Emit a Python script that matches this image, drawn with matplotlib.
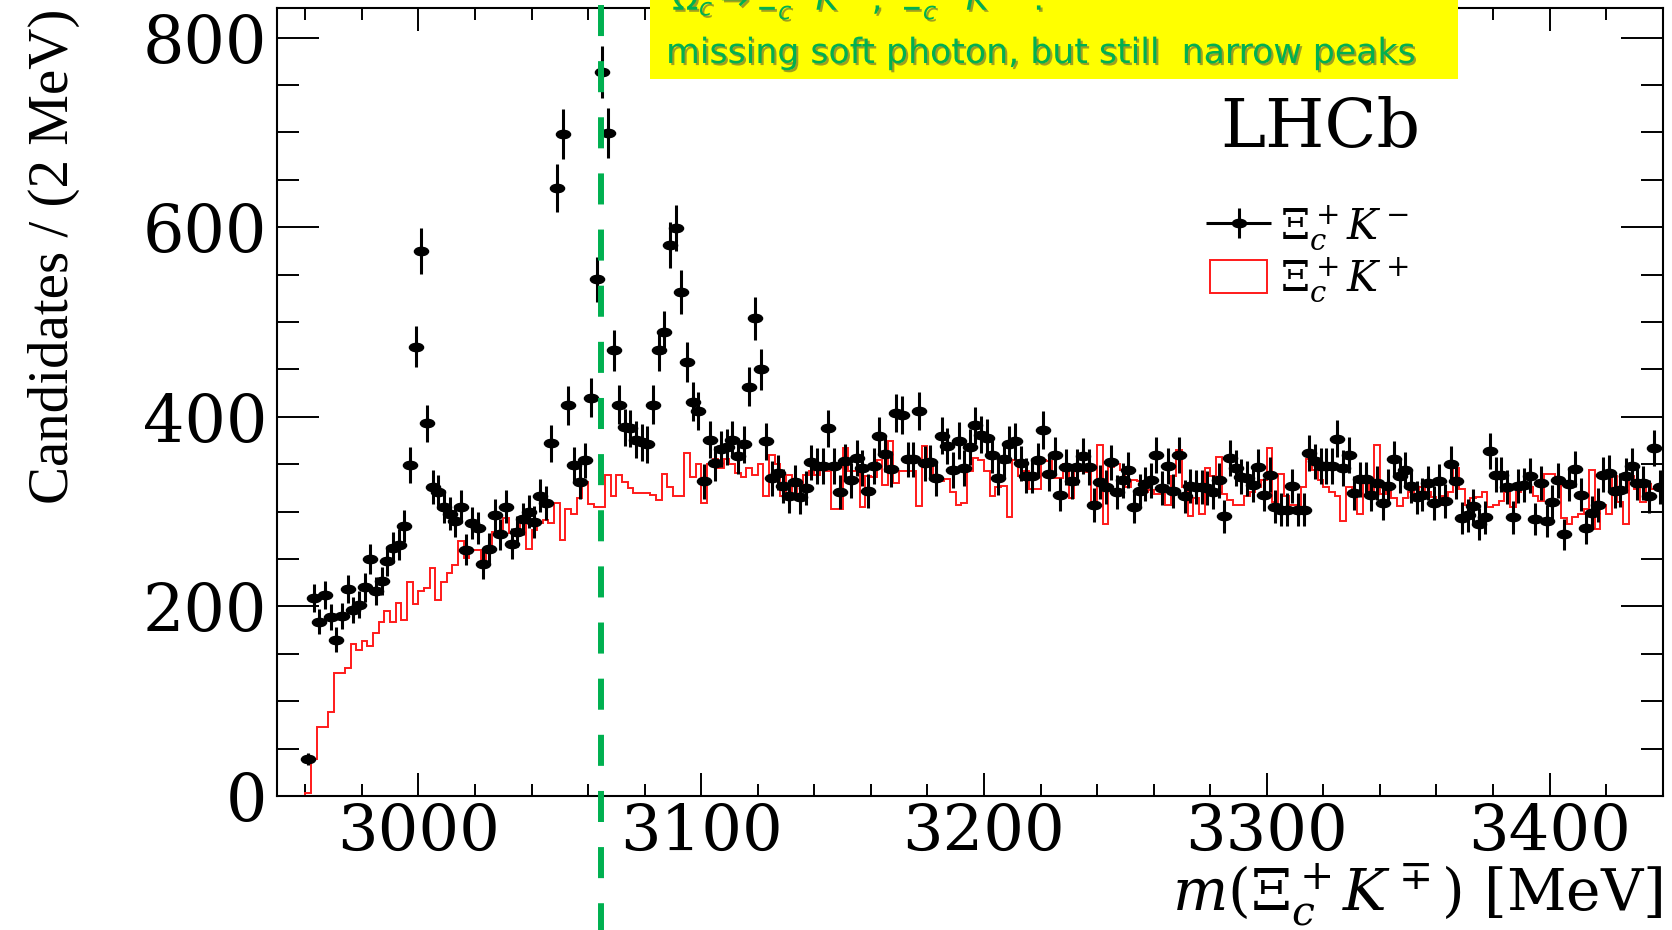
import numpy as np
import matplotlib
matplotlib.use("Agg")
import matplotlib.pyplot as plt
import matplotlib.patheffects as pe
from matplotlib.markers import MarkerStyle
from matplotlib.transforms import Affine2D, blended_transform_factory
from matplotlib.patches import Patch, Rectangle
from matplotlib.legend_handler import HandlerErrorbar
from matplotlib.ticker import MultipleLocator

# 2 MeV bins, 2960 -> 3440 MeV
bin_edges = np.arange(2960, 3441, 2)

# Xi_c+ K- candidates per bin (black points)
xi_k_minus = [
    39, 209, 184, 212, 189, 165, 190, 218, 196, 202,
    220, 250, 216, 227, 248, 262, 265, 285, 349, 474,
    575, 393, 326, 321, 305, 298, 290, 305, 260, 288,
    283, 245, 261, 296, 276, 305, 266, 279, 292, 300,
    289, 317, 309, 372, 641, 698, 412, 349, 331, 354,
    420, 545, 764, 699, 470, 413, 389, 388, 376, 373,
    371, 413, 470, 490, 581, 599, 532, 458, 416, 406,
    332, 376, 351, 366, 368, 376, 359, 371, 432, 504,
    450, 374, 335, 341, 327, 316, 331, 315, 325, 352,
    348, 348, 388, 348, 321, 353, 333, 357, 346, 322,
    348, 380, 361, 345, 404, 402, 355, 355, 406, 351,
    352, 335, 380, 369, 344, 375, 346, 368, 391, 381,
    378, 360, 336, 355, 371, 374, 351, 338, 338, 354,
    386, 340, 360, 318, 347, 332, 347, 359, 347, 307,
    331, 326, 352, 321, 333, 344, 305, 322, 329, 333,
    360, 325, 348, 322, 360, 316, 327, 326, 326, 325,
    321, 333, 295, 357, 346, 337, 335, 328, 347, 318,
    339, 305, 302, 302, 327, 302, 302, 362, 353, 348,
    348, 348, 377, 346, 360, 320, 334, 334, 318, 330,
    309, 327, 356, 338, 344, 327, 315, 318, 330, 309,
    332, 311, 350, 332, 293, 296, 306, 287, 294, 364,
    339, 339, 326, 294, 327, 328, 338, 292, 330, 290,
    310, 333, 276, 329, 345, 318, 283, 299, 307, 339,
    341, 322, 323, 338, 348, 330, 330, 316, 367, 326,
]

# Xi_c+ K+ candidates per bin (red histogram)
xi_k_plus = [
    3, 39, 73, 73, 89, 130, 130, 135, 160, 154,
    164, 158, 172, 184, 195, 184, 204, 186, 226, 203,
    216, 219, 241, 207, 226, 235, 244, 269, 251, 259,
    259, 249, 261, 279, 275, 293, 277, 274, 293, 261,
    281, 288, 291, 288, 309, 270, 303, 298, 314, 331,
    308, 305, 305, 339, 316, 339, 331, 325, 320, 320,
    320, 318, 312, 340, 326, 316, 316, 362, 337, 350,
    309, 350, 356, 346, 356, 350, 341, 337, 346, 339,
    350, 316, 360, 350, 316, 339, 316, 328, 339, 343,
    339, 346, 343, 303, 303, 367, 343, 343, 305, 338,
    337, 354, 328, 374, 330, 343, 343, 343, 306, 369,
    354, 338, 332, 334, 321, 307, 309, 343, 357, 354,
    343, 317, 326, 327, 294, 354, 338, 343, 324, 324,
    354, 353, 336, 335, 350, 314, 343, 343, 342, 308,
    370, 287, 347, 350, 344, 326, 333, 332, 321, 323,
    319, 319, 307, 338, 365, 326, 295, 314, 298, 346,
    338, 358, 319, 312, 307, 307, 317, 321, 326, 333,
    367, 310, 340, 316, 307, 307, 326, 356, 344, 333,
    326, 321, 316, 290, 326, 321, 298, 330, 319, 370,
    319, 326, 314, 306, 314, 321, 317, 326, 321, 315,
    307, 316, 321, 346, 324, 307, 314, 315, 321, 305,
    307, 311, 321, 305, 321, 328, 326, 316, 311, 340,
    340, 333, 293, 287, 294, 297, 303, 344, 282, 307,
    298, 338, 310, 287, 338, 324, 310, 329, 324, 324,
]

assert len(xi_k_minus) == len(bin_edges) - 1
assert len(xi_k_plus) == len(bin_edges) - 1

x_ticks = [3000, 3100, 3200, 3300, 3400]
y_ticks = [0, 200, 400, 600, 800]
cut_mass = 3064.6  # green dashed marker

plt.rcParams['font.family'] = ['DejaVu Serif']
plt.rcParams['mathtext.fontset'] = 'dejavuserif'

centres = bin_edges[:-1] + 1
counts = np.array(xi_k_minus, dtype=float)

fig = plt.figure(figsize=(16.72, 9.30), dpi=100)
ax = fig.add_axes([0.16567, 0.14409, 0.82876, 0.84699])

red = '#ff1a1a'
ax.stairs(xi_k_plus, bin_edges, color=red, lw=1.4, zorder=2)

oval = MarkerStyle('o', transform=Affine2D().scale(1.7, 1.0))
ax.errorbar(centres, counts, yerr=np.sqrt(counts), ls='none', marker=oval,
            ms=6.0, color='black', elinewidth=2.2, capsize=0, zorder=3)

ax.set_xlim(2950, 3440)
ax.set_ylim(0, 831)
ax.set_xticks(x_ticks)
ax.set_yticks(y_ticks)
ax.xaxis.set_minor_locator(MultipleLocator(20))
ax.yaxis.set_minor_locator(MultipleLocator(50))
ax.tick_params(which='both', direction='in', top=True, right=True, width=1.4, colors='black')
ax.tick_params(axis='x', which='major', length=16.5, pad=5, labelsize=46)
ax.tick_params(axis='x', which='minor', length=8.6)
ax.tick_params(axis='y', which='major', length=30, pad=7, labelsize=47)
ax.tick_params(axis='y', which='minor', length=15.8)
for s in ax.spines.values():
    s.set_linewidth(1.5)

ax.set_xlabel(r'$m(\Xi_c^+K^\mp)$ [MeV]', fontsize=42, loc='right')
ax.xaxis.set_label_coords(1.0, -0.083)
ax.set_ylabel('Candidates / (2 MeV)', fontsize=41, loc='top', family='Liberation Serif')
ax.yaxis.set_label_coords(-0.142, 1.0)

fig.text(1320 / 1672, 1 - 147 / 930, 'LHCb', fontsize=49, ha='center', va='baseline')

# legend
h_data = ax.errorbar([np.nan], [np.nan], xerr=[1.0], yerr=[1.0], ls='none', marker=oval,
                     ms=6.0, color='black', elinewidth=2.2, capsize=0)
h_bkg = Patch(facecolor='white', edgecolor=red, lw=1.4)
ax.legend([h_data, h_bkg], [r'$\Xi_c^+K^-$', r'$\Xi_c^+K^+$'],
          loc='upper left', bbox_to_anchor=(1210 / 1672, 1 - 203 / 930),
          bbox_transform=fig.transFigure, frameon=False, fontsize=30,
          handlelength=1.37, handleheight=0.84, handletextpad=0.3,
          labelspacing=0.08, borderpad=0, borderaxespad=0,
          handler_map={h_data: HandlerErrorbar(xerr_size=0.77, yerr_size=0.36)})

# green dashed line across the whole picture
trans = blended_transform_factory(ax.transData, fig.transFigure)
ax.plot([cut_mass, cut_mass], [1 - 5 / 930, 0], transform=trans, color='#00b050',
        lw=4.3, ls=(0, (5.2, 4.2)), clip_on=False, zorder=6)

# yellow note box at the top (its first line is cut by the picture edge)
fig.add_artist(Rectangle((650 / 1672, 1 - 79 / 930), 808 / 1672, 79 / 930 + 0.01,
                         transform=fig.transFigure, facecolor='#ffff00',
                         edgecolor='none', zorder=7))
shadow = [pe.withSimplePatchShadow(offset=(1.5, -1.5), shadow_rgbFace='#404040', alpha=0.5)]
fig.text(672 / 1672, 1 - 10 / 930, r"$\Omega_c \rightarrow \Xi_c^{\prime +}K^-,\ \Xi_c^{*+}K^-$ :",
         family='DejaVu Sans', math_fontfamily='dejavusans', fontsize=25,
         color='#00b050', va='baseline', ha='left', zorder=8, path_effects=shadow)
fig.text(666 / 1672, 1 - 63 / 930, 'missing soft photon, but still  narrow peaks',
         family='DejaVu Sans', fontsize=25, color='#00b050', va='baseline',
         ha='left', zorder=8, path_effects=shadow)

fig.savefig('out.png', dpi=100)
